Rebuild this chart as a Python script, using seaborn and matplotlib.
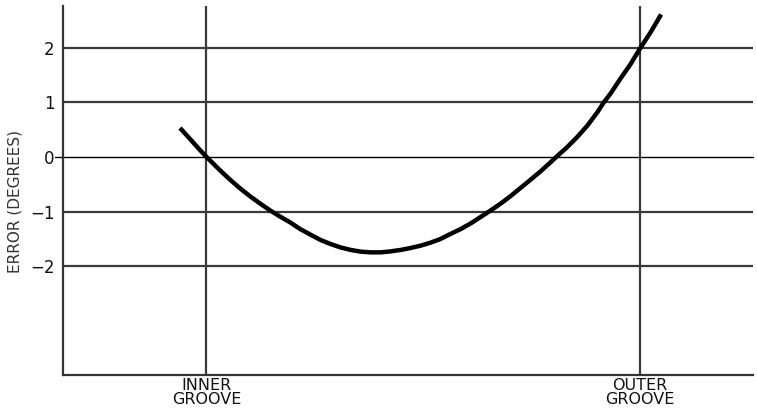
import matplotlib
matplotlib.use("Agg")
import matplotlib.pyplot as plt
import seaborn as sns
import pandas as pd

# Groove position: 0 = inner groove, 1 = outer groove
position = [-0.061, -0.038, -0.015, 0.0, 0.032, 0.055, 0.078, 0.101, 0.124,
            0.147, 0.170, 0.193, 0.216, 0.240, 0.263, 0.286, 0.309, 0.333,
            0.356, 0.379, 0.402, 0.425, 0.448, 0.471, 0.494, 0.517, 0.540,
            0.563, 0.587, 0.610, 0.633, 0.653, 0.679, 0.702, 0.724, 0.747,
            0.771, 0.794, 0.808, 0.832, 0.855, 0.879, 0.902, 0.917, 0.932,
            0.955, 0.979, 1.000, 1.025, 1.049]
error_deg = [0.529, 0.328, 0.126, 0.0, -0.251, -0.421, -0.579, -0.723, -0.855,
             -0.980, -1.093, -1.198, -1.319, -1.423, -1.520, -1.593, -1.656, -1.703,
             -1.734, -1.747, -1.747, -1.729, -1.703, -1.667, -1.625, -1.570, -1.502,
             -1.410, -1.319, -1.216, -1.098, -0.995, -0.854, -0.716, -0.573, -0.423,
             -0.264, -0.099, 0.005, 0.176, 0.359, 0.573, 0.817, 1.000, 1.154,
             1.429, 1.703, 1.978, 2.282, 2.606]

y_ticks = [-2, -1, 0, 1, 2]
y_tick_labels = ["\u22122", "\u22121", "0", "1", "2"]
x_ticks = [0, 1]
x_tick_labels = ["INNER\nGROOVE", "OUTER\nGROOVE"]
y_label = "ERROR (DEGREES)"

sns.set_style("white")
plt.rcParams["font.family"] = ["DejaVu Sans"]

df = pd.DataFrame({"position": position, "error": error_deg})

fig = plt.figure(figsize=(7.57, 4.12), dpi=100)
ax = fig.add_axes([0.0832, 0.0886, 0.9947 - 0.0832, 0.9854 - 0.0886])

grid_color = "#3a3a3a"
for yv in y_ticks:
    if yv == 0:
        ax.axhline(yv, color="black", lw=1.0, zorder=1, xmin=-0.012, clip_on=False)
    else:
        ax.axhline(yv, color=grid_color, lw=1.6, zorder=1)
for xv in x_ticks:
    ax.axvline(xv, color=grid_color, lw=1.6, zorder=1)

sns.lineplot(data=df, x="position", y="error", ax=ax, color="black",
             lw=3.2, sort=False, estimator=None, zorder=3)
line = ax.lines[-1]
line.set_solid_capstyle("butt")
line.set_solid_joinstyle("round")

ax.set_xlim(-0.331, 1.261)
ax.set_ylim(-4.0, 2.76)

ax.set_yticks(y_ticks)
ax.set_yticklabels(y_tick_labels, fontsize=12, color="#111111")
ax.set_xticks(x_ticks)
ax.set_xticklabels(x_tick_labels, fontsize=11.5, color="#111111", linespacing=0.9)
ax.tick_params(axis="both", length=0)
ax.tick_params(axis="y", pad=6)
ax.tick_params(axis="x", pad=2)

ax.set_xlabel("")
ax.set_ylabel(y_label, fontsize=11, color="#333333")
ax.yaxis.set_label_coords(-0.058, 0.47)

for s in ["top", "right"]:
    ax.spines[s].set_visible(False)
for s in ["left", "bottom"]:
    ax.spines[s].set_color("#333333")
    ax.spines[s].set_linewidth(1.6)

fig.savefig("out.png", dpi=100)
